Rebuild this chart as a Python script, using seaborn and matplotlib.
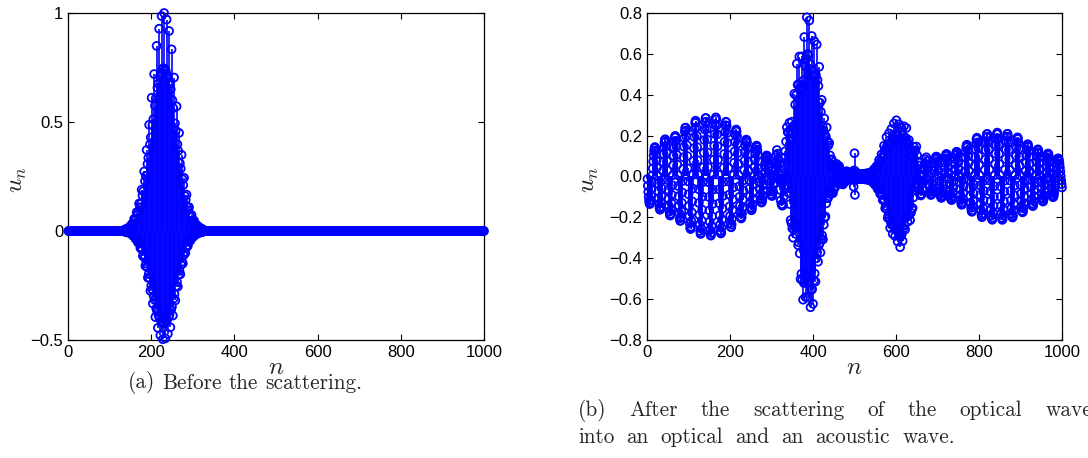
import numpy as np
import seaborn as sns
import matplotlib.pyplot as plt

# lattice sites
n = np.arange(1, 1001)

# ---- (a) before the scattering: one optical wave packet ----
# envelope read from the stem tips (upper = positive tips, lower = |negative tips|)
a_env_n = [0, 130, 150, 157, 164, 170, 176, 182, 188, 194, 200, 207, 212, 219, 225,
           231, 237, 245, 251, 256, 262, 268, 275, 280, 286, 292, 300, 310, 330, 1000]
a_env_up = [0, 0, 0.02, 0.046, 0.08, 0.116, 0.176, 0.257, 0.353, 0.466, 0.593, 0.72, 0.836, 0.928, 0.986,
            1.0, 0.97, 0.90, 0.80, 0.68, 0.55, 0.43, 0.317, 0.226, 0.155, 0.10, 0.058, 0.025, 0, 0]
a_env_lo = [0, 0, 0.01, 0.023, 0.04, 0.058, 0.088, 0.128, 0.176, 0.233, 0.296, 0.36, 0.418, 0.464, 0.493,
            0.5, 0.485, 0.45, 0.40, 0.34, 0.275, 0.215, 0.158, 0.113, 0.078, 0.05, 0.029, 0.012, 0, 0]
a_opt_crest = 231
# relative stem tips over one repeat of the optical wave (6 sites)
opt_pattern = [1.0, -0.85, 0.75, -1.0, 0.75, -0.85]

# ---- (b) after the scattering ----
# optical part (main packet near 390, smaller one near 610)
b_opt_n = [0, 300, 330, 337, 343, 349, 355, 361, 367, 373, 379, 385, 391, 397, 403, 409, 415, 421,
           427, 433, 439, 445, 451, 457, 470, 490, 520, 540, 553, 566, 578, 590, 602, 610, 620,
           626, 638, 648, 658, 670, 690, 1000]
b_opt_up = [0, 0, 0.09, 0.16, 0.25, 0.34, 0.42, 0.49, 0.57, 0.64, 0.70, 0.735, 0.745, 0.725, 0.68,
            0.615, 0.52, 0.40, 0.30, 0.22, 0.15, 0.10, 0.07, 0.05, 0.03, 0.015, 0.012, 0.02, 0.05,
            0.115, 0.195, 0.245, 0.265, 0.262, 0.235, 0.21, 0.16, 0.105, 0.05, 0.02, 0, 0]
b_opt_lo = [0, 0, 0.08, 0.10, 0.14, 0.20, 0.28, 0.35, 0.43, 0.52, 0.59, 0.63, 0.64, 0.61, 0.56,
            0.49, 0.41, 0.32, 0.24, 0.16, 0.10, 0.07, 0.055, 0.045, 0.03, 0.015, 0.012, 0.02, 0.05,
            0.10, 0.19, 0.27, 0.32, 0.33, 0.295, 0.25, 0.15, 0.08, 0.04, 0.02, 0, 0]
b_opt_crest = 391

# acoustic part, left packet and right packet
ac_period = 24.5      # sites between successive crests of the acoustic wave
b_acl_n = [0, 20, 45, 70, 95, 120, 145, 165, 190, 215, 240, 265, 290, 315, 340, 380, 420, 460, 500, 1000]
b_acl_amp = [0.13, 0.145, 0.185, 0.20, 0.245, 0.277, 0.29, 0.29, 0.27, 0.23, 0.18, 0.15, 0.10, 0.09,
             0.08, 0.05, 0.03, 0.015, 0, 0]
b_acl_crest = 19
b_acr_n = [0, 560, 620, 650, 675, 700, 720, 745, 770, 795, 820, 845, 870, 895, 920, 945, 970, 1000]
b_acr_amp = [0, 0, 0.02, 0.05, 0.08, 0.10, 0.11, 0.12, 0.155, 0.19, 0.21, 0.215, 0.21, 0.19, 0.155,
             0.13, 0.11, 0.08]
b_acr_crest = 746

# isolated spike near n = 500
spike_n = [497, 498, 499, 500, 501, 502, 503]
spike_u = [0.02, -0.05, 0.03, 0.114, -0.09, 0.025, -0.01]

caption_a = '(a) Before the scattering.'
caption_b1 = '(b) After the scattering of the optical wave'
caption_b2 = 'into an optical and an acoustic wave.'


def optical(env_n, up, lo, crest):
    c = np.asarray(opt_pattern)[(n - crest) % len(opt_pattern)]
    return np.where(c > 0, np.interp(n, env_n, up) * c, np.interp(n, env_n, lo) * c)


def acoustic(env_n, amp, crest):
    return np.interp(n, env_n, amp) * np.cos(2 * np.pi * (n - crest) / ac_period)


u_a = optical(a_env_n, a_env_up, a_env_lo, a_opt_crest)
u_b = (optical(b_opt_n, b_opt_up, b_opt_lo, b_opt_crest)
       + acoustic(b_acl_n, b_acl_amp, b_acl_crest)
       + acoustic(b_acr_n, b_acr_amp, b_acr_crest))
for k, v in zip(spike_n, spike_u):
    u_b[k - 1] = v

sns.set_theme(style='ticks')
plt.rcParams['font.family'] = ['Liberation Sans', 'DejaVu Sans']
plt.rcParams['mathtext.fontset'] = 'cm'

W, H = 1088, 458
fig = plt.figure(figsize=(W / 100, H / 100), dpi=100)
ax1 = fig.add_axes([68 / W, 1 - 340 / H, 416 / W, 327 / H])
ax2 = fig.add_axes([647 / W, 1 - 340 / H, 415 / W, 327 / H])


def stem(ax, u, ylim, yticks, ylab_x):
    ax.vlines(n, 0, u, color='blue', linewidth=1.2, clip_on=False, zorder=2)
    sns.scatterplot(x=n, y=u, ax=ax, marker='o', s=32, facecolor='none',
                    edgecolor='blue', linewidth=1.3, clip_on=False, zorder=3, legend=False)
    ax.set_xlim(0, 1000)
    ax.set_ylim(*ylim)
    ax.set_xticks([0, 200, 400, 600, 800, 1000])
    ax.set_yticks(yticks)
    ax.tick_params(direction='in', top=True, right=True, length=4, width=0.8,
                   labelsize=12, colors='black')
    for sp in ax.spines.values():
        sp.set_linewidth(0.9)
        sp.set_color('black')
    ax.set_xlabel(r'$n$', fontsize=18)
    ax.set_ylabel(r'$u_n$', fontsize=18)
    ax.xaxis.set_label_coords(0.5, -0.045)
    ax.yaxis.set_label_coords(ylab_x, 0.49)


stem(ax1, u_a, (-0.5, 1), [-0.5, 0, 0.5, 1], -0.094)
ax1.set_yticklabels(['\u22120.5', '0', '0.5', '1'])
stem(ax2, u_b, (-0.8, 0.8), np.round(np.arange(-0.8, 0.81, 0.2), 1), -0.111)

# captions, laid out word by word (LaTeX-like spacing)
renderer = fig.canvas.get_renderer()
cap_kw = dict(family='cmr10', fontsize=15.3, va='center', ha='left')


def place_words(text, x0, y, gap=None, x1=None):
    words = text.split(' ')
    objs = [fig.text(0, 1 - y / H, w, **cap_kw) for w in words]
    widths = [o.get_window_extent(renderer).width for o in objs]
    if x1 is not None:
        gap = (x1 - x0 - sum(widths)) / (len(words) - 1)
    x = x0
    for o, w in zip(objs, widths):
        o.set_x(x / W)
        x += w + gap
    return x - gap


words_a = caption_a.split(' ')
tmp = [fig.text(0, 0, w, **cap_kw) for w in words_a]
wa = sum(t.get_window_extent(renderer).width for t in tmp) + 7 * (len(words_a) - 1)
for t in tmp:
    t.remove()
place_words(caption_a, 245 - wa / 2, 383, gap=7)
place_words(caption_b1, 578, 410, x1=1092)
place_words(caption_b2, 578, 437, gap=12)

fig.savefig('out.png', dpi=100)
